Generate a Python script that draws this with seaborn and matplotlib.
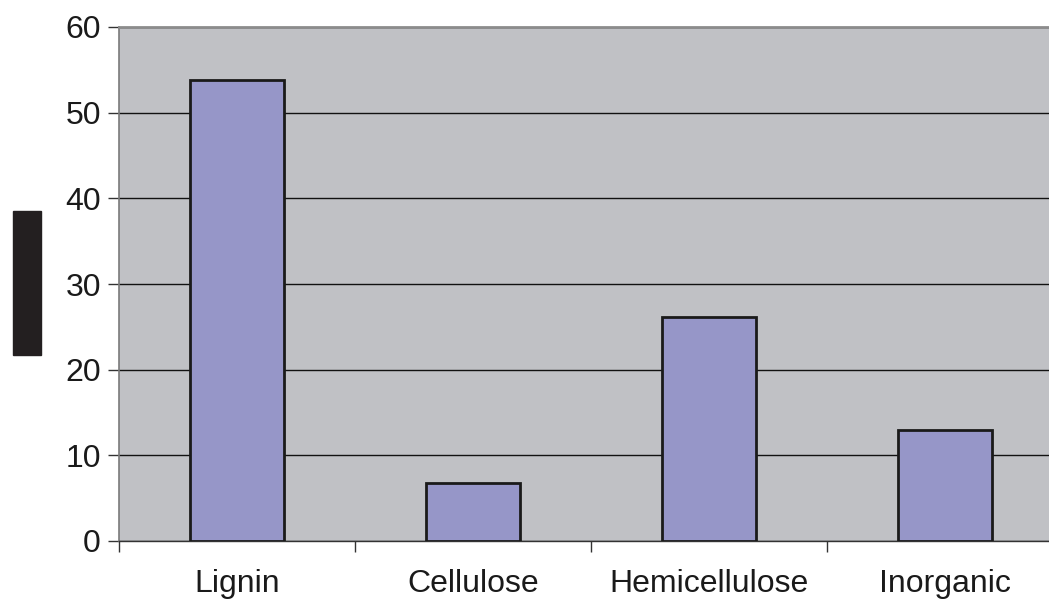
import pandas as pd
import matplotlib
matplotlib.use("Agg")
import matplotlib.pyplot as plt
import seaborn as sns
from matplotlib.patches import Rectangle

# values
components = ["Lignin", "Cellulose", "Hemicellulose", "Inorganic"]
percent = [53.8, 6.8, 26.2, 12.9]
y_ticks = [0, 10, 20, 30, 40, 50, 60]

df = pd.DataFrame({"component": components, "percent": percent})

sns.set_style("white")
plt.rcParams["font.family"] = ["Liberation Sans", "DejaVu Sans"]

fig = plt.figure(figsize=(10.49, 5.99), dpi=100)
ax = fig.add_axes([119 / 1049, 58 / 599, (1063 - 119) / 1049, 514 / 599])
ax.set_facecolor("#C0C1C5")

sns.barplot(data=df, x="component", y="percent", color="#9696C8",
            width=0.40, edgecolor="#1a1a1a", linewidth=2, saturation=1, ax=ax, zorder=3)

ax.set_xlim(-0.5, 3.5)
ax.set_ylim(0, 60)
ax.set_yticks(y_ticks)
ax.yaxis.grid(True, color="#111111", linewidth=1)
ax.set_axisbelow(True)

# category labels centred, tick marks between categories
ax.set_xticks(range(len(components)))
ax.set_xticklabels(components)
ax.set_xticks([-0.5, 0.5, 1.5, 2.5], minor=True)
ax.tick_params(axis="x", which="major", bottom=True, length=0, pad=20, labelsize=23)
ax.tick_params(axis="x", which="minor", bottom=True, length=8, width=1,
               color="#333333", direction="out")
ax.tick_params(axis="y", left=True, length=8, width=1, color="#333333",
               direction="out", pad=5, labelsize=23)
ax.tick_params(axis="both", labelcolor="#1a1a1a")
ax.set_xlabel("")
ax.set_ylabel("")

ax.spines["right"].set_visible(False)
ax.spines["top"].set_color("#8c8c8c")
ax.spines["top"].set_linewidth(2)
ax.spines["left"].set_color("#7a7a7a")
ax.spines["left"].set_linewidth(1.2)
ax.spines["bottom"].set_color("#333333")
ax.spines["bottom"].set_linewidth(1)

# obscured y-axis title box
fig.add_artist(Rectangle((13 / 1049, (599 - 355) / 599), 28 / 1049, 144 / 599,
                         transform=fig.transFigure, color="#231f20"))

fig.savefig("out.png", dpi=100)
